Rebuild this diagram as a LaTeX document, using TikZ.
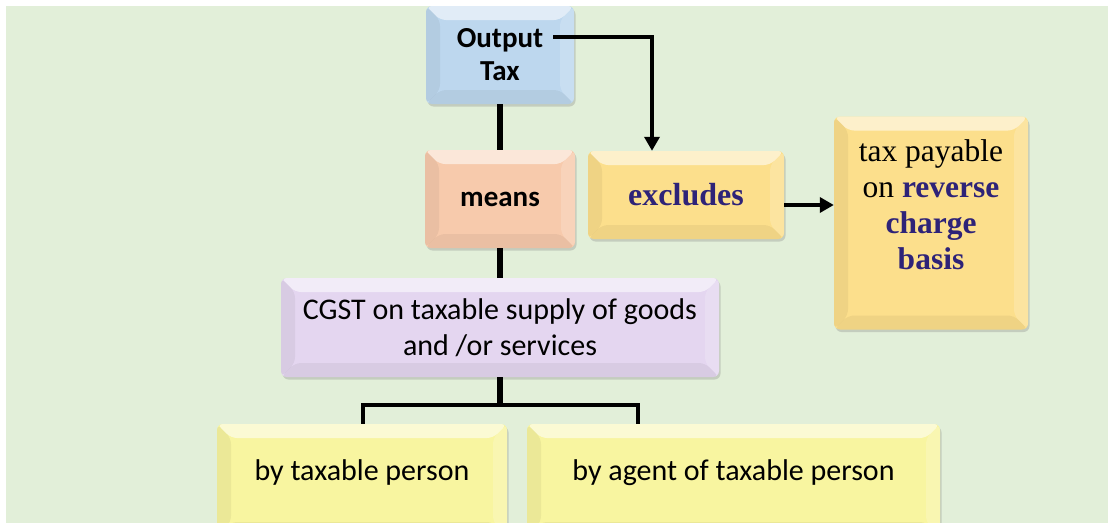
\documentclass[tikz,border=0pt]{standalone}
\usepackage{fontspec}
\setmainfont{Carlito}
\newfontfamily\seriffont{Liberation Serif}
\usetikzlibrary{shadows,arrows.meta}
\definecolor{bggreen}{RGB}{226,239,217}
\definecolor{cblue}{RGB}{189,215,238}
\definecolor{cpeach}{RGB}{247,202,172}
\definecolor{cgold}{RGB}{252,223,140}
\definecolor{clav}{RGB}{228,214,240}
\definecolor{clemon}{RGB}{248,245,160}
\definecolor{indigo}{RGB}{46,35,120}
\tikzset{
  box/.style={rounded corners=6pt, draw=none, align=center, inner sep=2pt,
    drop shadow={shadow xshift=1.5pt, shadow yshift=-2.5pt, opacity=.3},
    path picture={
      \path (path picture bounding box.north west) coordinate (pnw)
            (path picture bounding box.south east) coordinate (pse);
      \fill[white,opacity=.55] (pnw) -- (pnw -| pse) -- ([shift={(-14,-14)}]pnw -| pse) -- ([shift={(14,-14)}]pnw) -- cycle;
      \fill[black,opacity=.05] (pse) -- (pse -| pnw) -- ([shift={(14,14)}]pse -| pnw) -- ([shift={(-14,14)}]pse) -- cycle;
      \fill[black,opacity=.05] (pnw) -- (pnw |- pse) -- ([shift={(14,14)}]pnw |- pse) -- ([shift={(14,-14)}]pnw) -- cycle;
      \fill[white,opacity=.18] (pse) -- (pse |- pnw) -- ([shift={(-14,-14)}]pse |- pnw) -- ([shift={(-14,14)}]pse) -- cycle;
    }},
  conn/.style={line width=6pt},
  bracket/.style={line width=4.5pt},
  arr/.style={line width=4pt, -{Triangle[length=14pt,width=15pt]}},
  lowbox/.style={box, fill=clemon, minimum height=112pt, text depth=19pt,
    font=\fontsize{30}{34}\selectfont},
}
\begin{document}
\begin{tikzpicture}[x=1pt,y=1pt]
\clip (0,0) rectangle (1108,-522);
\fill[bggreen] (6,-6) rectangle (1112,-526);

\node[box, fill=cblue, minimum width=148pt, minimum height=98pt,
  font=\bfseries\fontsize{29}{33}\selectfont] (out) at (500,-55) {Output\\Tax};
\node[box, fill=cpeach, minimum width=150pt, minimum height=98pt,
  font=\bfseries\fontsize{29}{33}\selectfont] (means) at (500,-199) {means};
\node[box, fill=cgold, minimum width=196pt, minimum height=88pt,
  font=\seriffont\bfseries\fontsize{32}{36}\selectfont, text=indigo] (excl) at (686,-195) {excludes};
\node[box, fill=cgold, minimum width=194pt, minimum height=213pt,
  font=\seriffont\fontsize{31.5}{36}\selectfont] (tax) at (931,-223)
  {tax payable\\on \textcolor{indigo}{\textbf{reverse}}\\\textcolor{indigo}{\textbf{charge}}\\\textcolor{indigo}{\textbf{basis}}\\\mbox{}};
\node[box, fill=clav, minimum width=438pt, minimum height=99pt,
  font=\fontsize{30}{36}\selectfont] (cgst) at (500,-327.5)
  {CGST on taxable supply of goods\\and /or services};
\node[lowbox, minimum width=290pt] (b1) at (362,-480) {by taxable person};
\node[lowbox, minimum width=413pt] (b2) at (733.5,-480) {by agent of taxable person};

\draw[conn] (out.south) -- (means.north);
\draw[conn] (means.south) -- (means.south |- cgst.north);
\coordinate (j) at (500,-405);
\coordinate (jl) at (363,-405);
\coordinate (jr) at (638,-405);
\draw[conn] (cgst.south) -- (j);
\draw[bracket] (jl |- b1.north) -- (jl) -- (jr) -- (jr |- b2.north);

\coordinate (os) at (553,-37);
\coordinate (es) at ([yshift=-10pt]excl.east);
\draw[arr] (os) -| ([xshift=-34pt]excl.north);
\draw[arr] (es) -- (tax.west |- es);
\end{tikzpicture}
\end{document}
